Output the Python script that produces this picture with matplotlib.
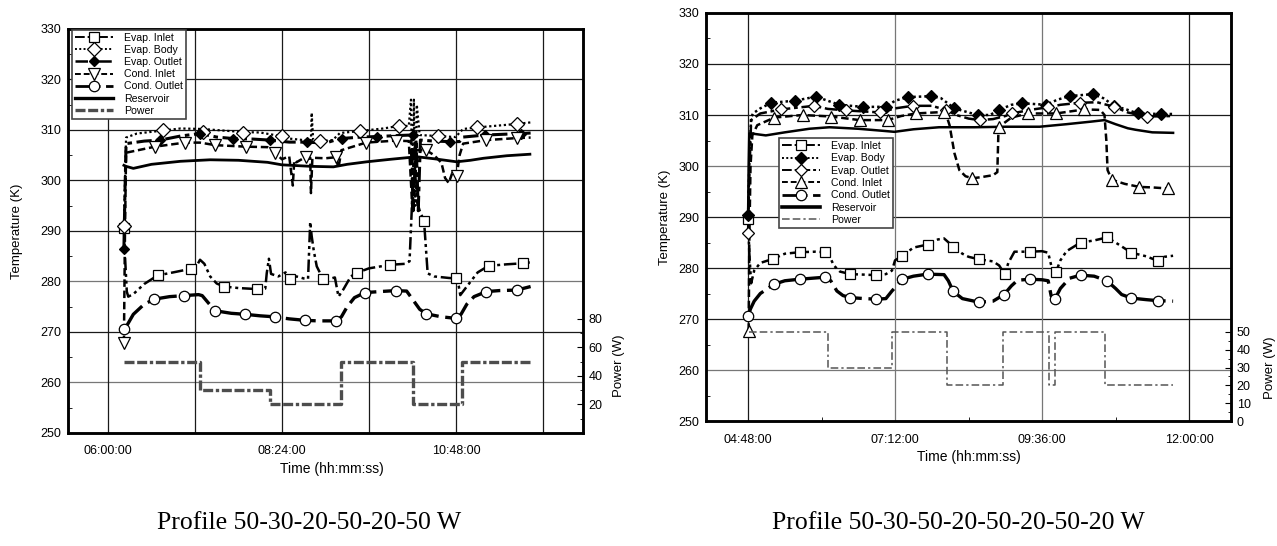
import numpy as np
import matplotlib
matplotlib.use("Agg")
import matplotlib.pyplot as plt
from matplotlib.lines import Line2D
from matplotlib.ticker import FixedLocator, FuncFormatter, MultipleLocator

plt.rcParams['font.family'] = ['Liberation Sans', 'DejaVu Sans']

# ---------------- LEFT CHART DATA (time in hours, temperature in K) ----------------
L_ei_t = [6.22, 6.235, 6.26, 6.28, 6.35, 6.5, 6.685, 6.9, 7.14, 7.22, 7.27, 7.33, 7.41, 7.5, 7.6, 7.8, 8.05, 8.17,
          8.19, 8.22, 8.25, 8.35, 8.45, 8.51, 8.6, 8.7, 8.76, 8.79, 8.81, 8.84, 8.88, 8.97, 9.08, 9.13, 9.18, 9.25,
          9.35, 9.43, 9.6, 9.89, 10.1, 10.16, 10.19, 10.22, 10.26, 10.3, 10.36, 10.41, 10.5, 10.7, 10.8, 10.84,
          10.86, 10.95, 11.1, 11.25, 11.5, 11.72, 11.83]
L_ei_T = [290.6, 285, 278, 277, 277.5, 279.5, 281.2, 281.8, 282.5, 283, 284.3, 283.5, 281, 279.6, 279, 278.7, 278.5,
          278.6, 281.6, 284.5, 281.5, 281, 281.8, 280.4, 281, 280.6, 280.5, 291.8, 289, 286, 283, 280.4, 280.6,
          280.8, 277, 278.5, 281, 281.7, 282.6, 283.3, 283.5, 284, 294, 306, 296, 294, 292, 281.6, 281, 280.7,
          280.6, 279, 277.3, 279, 281.8, 283.1, 283.4, 283.6, 283.8]
L_ei_mt = [6.22, 6.685, 7.14, 7.6, 8.05, 8.51, 8.97, 9.43, 9.89, 10.36, 10.8, 11.25, 11.72]
L_ei_mT = [290.6, 281.2, 282.5, 279.0, 278.5, 280.4, 280.4, 281.7, 283.3, 292.0, 280.6, 283.1, 283.6]

L_eb_t = [6.22, 6.235, 6.25, 6.4, 6.763, 7.0, 7.3, 7.858, 8.1, 8.3, 8.5, 8.7, 8.8, 8.81, 8.83, 8.93, 9.1, 9.2,
          9.476, 9.8, 10.01, 10.15, 10.18, 10.2, 10.22, 10.24, 10.26, 10.3, 10.556, 10.8, 10.85, 10.9, 11.09,
          11.637, 11.83]
L_eb_T = [291, 300, 308.5, 309.3, 309.9, 310.3, 310.2, 309.6, 309.5, 309, 308.3, 308, 308, 313.4, 308, 307.8,
          308, 309.4, 309.8, 310.3, 310.8, 310.8, 316, 296, 316, 295, 315, 309, 308.8, 308.6, 309.5, 310.2,
          310.5, 311.2, 311.5]
L_eb_mt = [6.22, 6.763, 7.315, 7.858, 8.396, 8.93, 9.476, 10.01, 10.556, 11.09, 11.637]
L_eb_mT = [290.9, 309.9, 309.7, 309.5, 308.8, 307.8, 309.8, 310.8, 308.8, 310.5, 311.2]

L_eo_t = [6.22, 6.235, 6.25, 6.5, 6.72, 7.0, 7.27, 7.5, 7.73, 8.0, 8.23, 8.5, 8.74, 9.0, 9.2, 9.5, 9.71, 10.0,
          10.18, 10.21, 10.25, 10.28, 10.31, 10.5, 10.72, 10.85, 10.9, 11.2, 11.7, 11.83]
L_eo_T = [286.4, 298, 307.3, 307.8, 308, 308.8, 309.3, 308.6, 308.3, 308.2, 308, 307.6, 307.6, 307.4, 308.3,
          308.6, 308.7, 308.9, 309, 294, 308, 294, 308, 307.8, 307.7, 307.7, 308.6, 309, 309.3, 309.4]
L_eo_mt = [6.22, 6.72, 7.27, 7.73, 8.23, 8.74, 9.23, 9.71, 10.21, 10.72, 11.2, 11.7]
L_eo_mT = [286.4, 308.0, 309.3, 308.3, 308.0, 307.6, 308.3, 308.7, 309.0, 307.7, 309.0, 309.3]

L_ci_t = [6.22, 6.235, 6.25, 6.65, 7.06, 7.27, 7.48, 7.9, 8.2, 8.31, 8.4, 8.5, 8.55, 8.57, 8.6, 8.73, 8.79, 8.8,
          8.82, 9.0, 9.14, 9.18, 9.22, 9.56, 9.97, 10.15, 10.2, 10.25, 10.39, 10.5, 10.6, 10.65, 10.7, 10.75,
          10.81, 10.85, 10.9, 11.22, 11.64, 11.83]
L_ci_T = [267.8, 290, 305.5, 306.7, 307.5, 307.5, 307, 306.7, 306.6, 305.4, 304.2, 304.8, 299, 304, 303.6,
          304.7, 304.5, 297.5, 304.5, 304.4, 304.6, 302.5, 306, 307.5, 307.9, 307.8, 294, 306, 306, 305, 303.5,
          300.5, 299.5, 301.5, 300.8, 305, 307.3, 308, 308.4, 308.5]
L_ci_mt = [6.22, 6.65, 7.06, 7.48, 7.9, 8.31, 8.73, 9.14, 9.56, 9.97, 10.39, 10.81, 11.22, 11.64]
L_ci_mT = [267.8, 306.7, 307.5, 307.0, 306.7, 305.4, 304.7, 304.6, 307.5, 307.9, 306.0, 300.8, 308.0, 308.4]

L_co_t = [6.22, 6.25, 6.35, 6.5, 6.64, 6.85, 7.05, 7.25, 7.3, 7.4, 7.48, 7.7, 7.89, 8.1, 8.3, 8.5, 8.72, 8.9,
          9.14, 9.22, 9.3, 9.4, 9.545, 9.75, 9.97, 10.12, 10.2, 10.3, 10.39, 10.6, 10.8, 10.87, 10.95, 11.05,
          11.22, 11.4, 11.64, 11.83]
L_co_T = [270.5, 271, 273.5, 275.5, 276.5, 277, 277.2, 277.4, 277.2, 275.5, 274.2, 273.7, 273.5, 273.2, 273,
          272.6, 272.3, 272.2, 272.2, 273, 275, 276.8, 277.8, 278, 278.2, 278.1, 276.5, 274.5, 273.6, 273,
          272.7, 273.5, 275.5, 277, 278, 278.2, 278.3, 279]
L_co_mt = [6.22, 6.64, 7.05, 7.48, 7.89, 8.3, 8.72, 9.14, 9.545, 9.97, 10.39, 10.8, 11.22, 11.64]
L_co_mT = [270.5, 276.5, 277.2, 274.2, 273.5, 273.0, 272.3, 272.2, 277.8, 278.2, 273.6, 272.7, 278.0, 278.3]

L_res_t = [6.22, 6.25, 6.35, 6.6, 7.0, 7.41, 7.8, 8.2, 8.4, 8.8, 9.11, 9.3, 9.57, 9.9, 10.26, 10.5, 10.81, 11.0,
           11.18, 11.5, 11.82]
L_res_T = [303, 302.8, 302.4, 303.2, 303.8, 304.1, 304, 303.6, 303.1, 302.8, 302.7, 303.2, 303.7, 304.2, 304.7,
           304.3, 303.7, 304, 304.4, 304.9, 305.2]

L_pw_t = [6.225, 7.269, 8.234, 9.21, 10.21, 10.883, 11.83]
L_pw_W = [50, 30, 20, 50, 20, 50, 50]

# ---------------- RIGHT CHART DATA ----------------
R_ei_t = [4.8, 4.82, 4.85, 4.9, 5.0, 5.21, 5.4, 5.64, 5.9, 6.06, 6.12, 6.2, 6.3, 6.47, 6.7, 6.89, 7.05, 7.15, 7.2,
          7.32, 7.5, 7.73, 7.9, 8.0, 8.15, 8.3, 8.4, 8.57, 8.8, 8.9, 8.99, 9.05, 9.15, 9.4, 9.6, 9.7, 9.76, 9.83,
          9.9, 10.0, 10.23, 10.45, 10.66, 10.8, 11.06, 11.3, 11.49, 11.6, 11.74]
R_ei_T = [289.7, 283, 277, 279.5, 281, 281.8, 282.8, 283.1, 283.2, 283.1, 282.6, 280.5, 279.3, 278.8, 278.7,
          278.6, 278.8, 279.5, 281.5, 282.4, 284.0, 284.6, 285.6, 285.8, 284.2, 282.8, 282.2, 281.7, 281.3, 280.5,
          278.8, 281, 283.2, 283.2, 283.3, 283.0, 280, 279.3, 281.5, 283.3, 285.0, 285.4, 286.0, 285, 283.0,
          282.3, 281.4, 282.2, 282.4]
R_ei_mt = [4.8, 5.21, 5.64, 6.06, 6.47, 6.89, 7.32, 7.73, 8.15, 8.57, 8.99, 9.4, 9.83, 10.23, 10.66, 11.06, 11.49]
R_ei_mT = [289.7, 281.8, 283.1, 283.1, 278.8, 278.6, 282.4, 284.6, 284.2, 281.7, 278.8, 283.2, 279.3, 285.0,
           286.0, 283.0, 281.4]

R_eb_t = [4.8, 4.82, 4.85, 4.88, 5.0, 5.18, 5.56, 5.91, 6.1, 6.29, 6.67, 7.05, 7.2, 7.41, 7.79, 7.95, 8.17, 8.4,
          8.55, 8.75, 8.9, 9.1, 9.28, 9.67, 9.85, 10.05, 10.43, 10.6, 10.78, 11.0, 11.16, 11.54, 11.74]
R_eb_T = [290.4, 300, 309.5, 310.3, 311.3, 312.4, 312.8, 313.6, 312.8, 312, 311.6, 311.6, 312.8, 313.5, 313.7,
          313.3, 311.3, 310.5, 310, 310, 311, 312, 312.3, 312, 313, 313.7, 314.1, 313.3, 311.8, 311, 310.3,
          310.2, 310.2]
R_eb_mt = [4.8, 5.18, 5.56, 5.91, 6.29, 6.67, 7.05, 7.41, 7.79, 8.17, 8.55, 8.9, 9.28, 9.67, 10.05, 10.43, 10.78,
           11.16, 11.54]
R_eb_mT = [290.4, 312.4, 312.8, 313.6, 312.0, 311.6, 311.6, 313.5, 313.7, 311.3, 310.0, 311.0, 312.3, 312.0,
           313.7, 314.1, 311.8, 310.3, 310.2]

R_eo_t = [4.8, 4.82, 4.85, 5.0, 5.34, 5.88, 6.1, 6.4, 6.96, 7.2, 7.49, 7.8, 8.03, 8.2, 8.4, 8.58, 8.8, 9.0, 9.11,
          9.4, 9.69, 9.9, 10.22, 10.5, 10.78, 11.0, 11.31, 11.74]
R_eo_T = [286.8, 298, 309, 310.3, 311.1, 311.8, 311.2, 310.9, 310.5, 311.3, 311.8, 311.8, 311, 310, 309.3, 309,
          309.2, 309.8, 310.3, 311, 311.5, 312, 312.4, 312.5, 311.6, 310.5, 309.7, 309.8]
R_eo_mt = [4.8, 5.34, 5.88, 6.4, 6.96, 7.49, 8.03, 8.58, 9.11, 9.69, 10.22, 10.78, 11.31]
R_eo_mT = [286.8, 311.1, 311.8, 310.9, 310.5, 311.8, 311.0, 309.0, 310.3, 311.5, 312.4, 311.6, 309.7]

R_ci_t = [4.81, 4.82, 4.84, 4.87, 4.95, 5.23, 5.69, 6.16, 6.62, 7.08, 7.3, 7.54, 8.0, 8.05, 8.09, 8.17, 8.25,
          8.35, 8.46, 8.6, 8.8, 8.87, 8.89, 8.9, 9.1, 9.37, 9.83, 10.29, 10.55, 10.62, 10.65, 10.67, 10.74,
          10.95, 11.19, 11.4, 11.65]
R_ci_T = [267.7, 285, 300, 306, 308, 309.5, 310, 309.7, 309, 309, 309.8, 310.3, 310.6, 309.5, 308, 302.5, 299.2,
          298, 297.6, 297.8, 298.2, 298.8, 307.7, 307.7, 309.5, 310.3, 310.3, 311.1, 311, 310, 305, 299.2,
          297.3, 296.5, 295.9, 295.8, 295.6]
R_ci_mt = [4.81, 5.23, 5.69, 6.16, 6.62, 7.08, 7.54, 8.0, 8.46, 8.9, 9.37, 9.83, 10.29, 10.74, 11.19, 11.65]
R_ci_mT = [267.7, 309.5, 310.0, 309.7, 309.0, 309.0, 310.3, 310.6, 297.6, 307.7, 310.3, 310.3, 311.1, 297.3,
           295.9, 295.6]

R_co_t = [4.8, 4.84, 4.9, 5.0, 5.22, 5.4, 5.64, 5.85, 6.06, 6.15, 6.25, 6.35, 6.47, 6.7, 6.89, 7.05, 7.15, 7.32,
          7.5, 7.73, 8.0, 8.07, 8.15, 8.3, 8.57, 8.8, 8.98, 9.1, 9.2, 9.4, 9.6, 9.7, 9.75, 9.81, 9.9, 10.05,
          10.23, 10.45, 10.66, 10.8, 10.9, 11.06, 11.3, 11.49, 11.74]
R_co_T = [270.5, 272, 273.5, 275, 276.8, 277.5, 277.8, 278, 278.2, 277.5, 275.5, 274.6, 274.2, 274, 273.9, 274,
          275.5, 277.8, 278.4, 278.8, 278.7, 277.5, 275.4, 274, 273.3, 273.5, 274.8, 276.5, 277.6, 277.8, 277.7,
          277.5, 274.5, 273.9, 276, 278, 278.6, 278.4, 277.5, 276, 274.8, 274.1, 273.8, 273.6, 273.5]
R_co_mt = [4.8, 5.22, 5.64, 6.06, 6.47, 6.89, 7.32, 7.73, 8.15, 8.57, 8.98, 9.4, 9.81, 10.23, 10.66, 11.06, 11.49]
R_co_mT = [270.5, 276.8, 277.8, 278.2, 274.2, 273.9, 277.8, 278.8, 275.4, 273.3, 274.8, 277.8, 273.9, 278.6,
           277.5, 274.1, 273.6]

R_res_t = [4.8, 4.81, 4.82, 4.9, 5.09, 5.4, 5.8, 6.13, 6.6, 7.0, 7.19, 7.5, 7.92, 8.5, 9.0, 9.56, 10.0, 10.4,
           10.62, 10.8, 11.0, 11.13, 11.4, 11.74]
R_res_T = [290, 300, 306.4, 306.3, 306.0, 306.6, 307.3, 307.6, 307.3, 306.9, 306.7, 307.2, 307.6, 307.6, 307.7,
           307.7, 308.2, 308.7, 309, 308.2, 307.4, 307.1, 306.6, 306.5]

R_pw_t = [4.81, 6.10, 7.156, 8.054, 8.97, 9.714, 9.81, 10.63, 11.74]
R_pw_W = [50, 30, 50, 20, 50, 20, 50, 20, 20]

legend_labels = ["Evap. Inlet", "Evap. Body", "Evap. Outlet", "Cond. Inlet", "Cond. Outlet", "Reservoir", "Power"]
captions = ["Profile 50-30-20-50-20-50 W", "Profile 50-30-50-20-50-20-50-20 W"]


def hms(x, pos=None):
    total = int(round(x * 3600))
    h, rem = divmod(total, 3600)
    m, s = divmod(rem, 60)
    return f"{h:02d}:{m:02d}:{s:02d}"


# ---------------- styles ----------------
DDOT = (0, (5, 1.5, 1.2, 1.5, 1.2, 1.5))
DOT = (0, (1, 1.2))
DASHDOT = (0, (5, 1.5, 1.5, 1.5))
DASH = (0, (3, 1.5))
LDASH = (0, (9, 2))

fig = plt.figure(figsize=(12.77, 5.46), dpi=100)

axL = fig.add_axes([0.0532, 0.2070, 0.4033, 0.7399])
axR = fig.add_axes([0.5529, 0.2289, 0.4111, 0.7473])


def style_axes(ax, xlim, major, minor_x, grid_x_every, gray_y, gray_x):
    ax.set_ylim(250, 330)
    ax.set_xlim(*xlim)
    ax.yaxis.set_major_locator(MultipleLocator(10))
    ax.yaxis.set_minor_locator(MultipleLocator(5))
    ax.xaxis.set_major_locator(FixedLocator(major))
    ax.xaxis.set_minor_locator(FixedLocator(minor_x))
    ax.xaxis.set_major_formatter(FuncFormatter(hms))
    ax.tick_params(axis='both', which='both', direction='in', labelsize=9)
    ax.tick_params(axis='y', which='major', length=0, pad=5)
    ax.tick_params(axis='y', which='minor', length=3)
    ax.tick_params(axis='x', which='major', length=0, pad=9)
    ax.tick_params(axis='x', which='minor', length=3)
    for s in ax.spines.values():
        s.set_linewidth(1.8)
    for yv in range(260, 330, 10):
        ax.axhline(yv, color='#777777' if yv in gray_y else '#1a1a1a', lw=0.9, zorder=0)
    for xv in grid_x_every:
        ax.axvline(xv, color='#777777' if xv in gray_x else '#1a1a1a', lw=0.9, zorder=0)


style_axes(axL, (5.448, 12.552), [6.0, 8.4, 10.8], [], [6.0, 7.2, 8.4, 9.6, 10.8, 12.0], [260, 280], [])
style_axes(axR, (4.114, 12.686), [4.8, 7.2, 9.6, 12.0], [6.0, 8.4, 10.8], [4.8, 7.2, 9.6, 12.0], [300, 260],
           [7.2, 9.6])

K = 'black'
# ---- left series ----
lw = 1.8
axL.plot(L_ei_t, L_ei_T, color=K, lw=lw, ls=DDOT, zorder=3)
axL.plot(L_eb_t, L_eb_T, color=K, lw=1.6, ls=DOT, zorder=3)
axL.plot(L_eo_t, L_eo_T, color=K, lw=2.2, ls=DASHDOT, zorder=3)
axL.plot(L_ci_t, L_ci_T, color=K, lw=lw, ls=DASH, zorder=3)
axL.plot(L_co_t, L_co_T, color=K, lw=2.4, ls=LDASH, zorder=3)
axL.plot(L_res_t, L_res_T, color=K, lw=2.0, ls='-', zorder=3)
mk_kw = dict(ls='none', mec=K, mew=0.9, zorder=5)
axL.plot(L_ei_mt, L_ei_mT, marker='s', ms=7, mfc='white', **mk_kw)
axL.plot(L_eb_mt, L_eb_mT, marker='D', ms=7.5, mfc='white', **mk_kw)
axL.plot(L_eo_mt, L_eo_mT, marker='D', ms=5.5, mfc=K, **mk_kw)
axL.plot(L_ci_mt, L_ci_mT, marker='v', ms=9, mfc='white', **mk_kw)
axL.plot(L_co_mt, L_co_mT, marker='o', ms=7.5, mfc='white', **mk_kw)

axL2 = axL.twinx()
axL2.set_ylim(0, 283.5)
axL2.yaxis.set_major_locator(FixedLocator([20, 40, 60, 80]))
axL2.yaxis.set_minor_locator(FixedLocator([10, 30, 50, 70]))
axL2.tick_params(axis='y', which='major', direction='in', length=4, labelsize=9, pad=4)
axL2.tick_params(axis='y', which='minor', direction='in', length=2.5)
axL2.plot(L_pw_t, L_pw_W, drawstyle='steps-post', color='#4d4d4d', lw=2.4, ls=(0, (3, 0.8, 3, 0.8, 1, 0.8)), zorder=3)
axL2.set_ylabel("Power (W)", fontsize=9.5)
axL2.yaxis.set_label_coords(1.058, 0.166)
for s in axL2.spines.values():
    s.set_linewidth(1.8)

axL.set_ylabel("Temperature (K)", fontsize=9.5)
axL.yaxis.set_label_coords(-0.088, 0.5)
axL.set_xlabel("Time (hh:mm:ss)", fontsize=10)
axL.xaxis.set_label_coords(0.513, -0.072)

hL = [
    Line2D([], [], color=K, lw=1.4, ls=DDOT, marker='s', ms=7, mfc='white', mec=K, mew=0.9),
    Line2D([], [], color=K, lw=1.4, ls=DOT, marker='D', ms=7.5, mfc='white', mec=K, mew=0.9),
    Line2D([], [], color=K, lw=1.8, ls=DASHDOT, marker='D', ms=5.5, mfc=K, mec=K),
    Line2D([], [], color=K, lw=1.4, ls=DASH, marker='v', ms=9, mfc='white', mec=K, mew=0.9),
    Line2D([], [], color=K, lw=2.0, ls=LDASH, marker='o', ms=7.5, mfc='white', mec=K, mew=0.9),
    Line2D([], [], color=K, lw=2.4, ls='-'),
    Line2D([], [], color='#4d4d4d', lw=2.4, ls=(0, (3, 0.8, 3, 0.8, 1, 0.8))),
]
legL = axL2.legend(hL, legend_labels, loc='upper left', bbox_to_anchor=(0.008, 0.998), borderaxespad=0,
                   fontsize=7.6, labelspacing=0.2, handlelength=3.6, handletextpad=1.0, borderpad=0.3,
                   fancybox=False, framealpha=1, edgecolor='#444444')
legL.get_frame().set_linewidth(1.2)

# ---- right series ----
axR.plot(R_ei_t, R_ei_T, color=K, lw=lw, ls=DDOT, zorder=3)
axR.plot(R_eb_t, R_eb_T, color=K, lw=1.8, ls=DOT, zorder=3)
axR.plot(R_eo_t, R_eo_T, color=K, lw=1.8, ls=DASHDOT, zorder=3)
axR.plot(R_ci_t, R_ci_T, color=K, lw=1.8, ls=DASH, zorder=3)
axR.plot(R_co_t, R_co_T, color=K, lw=2.4, ls=LDASH, zorder=3)
axR.plot(R_res_t, R_res_T, color=K, lw=1.8, ls='-', zorder=3)
axR.plot(R_ei_mt, R_ei_mT, marker='s', ms=7, mfc='white', **mk_kw)
axR.plot(R_eb_mt, R_eb_mT, marker='D', ms=6, mfc=K, **mk_kw)
axR.plot(R_eo_mt, R_eo_mT, marker='D', ms=6.5, mfc='white', **mk_kw)
axR.plot(R_ci_mt, R_ci_mT, marker='^', ms=9, mfc='white', **mk_kw)
axR.plot(R_co_mt, R_co_mT, marker='o', ms=7.5, mfc='white', **mk_kw)

axR2 = axR.twinx()
axR2.set_ylim(0, 229)
axR2.yaxis.set_major_locator(FixedLocator([0, 10, 20, 30, 40, 50]))
axR2.yaxis.set_minor_locator(FixedLocator([5, 15, 25, 35, 45]))
axR2.tick_params(axis='y', which='major', direction='in', length=4, labelsize=9, pad=4)
axR2.tick_params(axis='y', which='minor', direction='in', length=2.5)
PWR_R = (0, (5, 2, 5, 2, 1.5, 2))
axR2.plot(R_pw_t, R_pw_W, drawstyle='steps-post', color='#555555', lw=1.1, ls=PWR_R, zorder=3)
axR2.set_ylabel("Power (W)", fontsize=9.5)
axR2.yaxis.set_label_coords(1.062, 0.13)
for s in axR2.spines.values():
    s.set_linewidth(1.8)

axR.set_ylabel("Temperature (K)", fontsize=9.5)
axR.yaxis.set_label_coords(-0.066, 0.5)
axR.set_xlabel("Time (hh:mm:ss)", fontsize=10)
axR.xaxis.set_label_coords(0.5, -0.072)

hR = [
    Line2D([], [], color=K, lw=1.4, ls=DDOT, marker='s', ms=7, mfc='white', mec=K, mew=0.9),
    Line2D([], [], color=K, lw=1.4, ls=DOT, marker='D', ms=6, mfc=K, mec=K),
    Line2D([], [], color=K, lw=1.4, ls=DASHDOT, marker='D', ms=6.5, mfc='white', mec=K, mew=0.9),
    Line2D([], [], color=K, lw=1.4, ls=DASH, marker='^', ms=9, mfc='white', mec=K, mew=0.9),
    Line2D([], [], color=K, lw=2.0, ls=LDASH, marker='o', ms=7.5, mfc='white', mec=K, mew=0.9),
    Line2D([], [], color=K, lw=2.6, ls='-'),
    Line2D([], [], color='#555555', lw=1.1, ls=PWR_R),
]
legR = axR2.legend(hR, legend_labels, loc='upper left', bbox_to_anchor=(0.139, 0.694), borderaxespad=0,
                   fontsize=7.6, labelspacing=0.22, handlelength=3.6, handletextpad=1.0, borderpad=0.3,
                   fancybox=False, framealpha=1, edgecolor='#444444')
legR.get_frame().set_linewidth(1.2)

fig.text(309 / 1277, 1 - 523 / 546, captions[0], ha='center', va='center', fontsize=18.5,
         family=['Liberation Serif', 'DejaVu Serif'])
fig.text(958 / 1277, 1 - 523 / 546, captions[1], ha='center', va='center', fontsize=18.5,
         family=['Liberation Serif', 'DejaVu Serif'])

fig.savefig("out.png", dpi=100)
